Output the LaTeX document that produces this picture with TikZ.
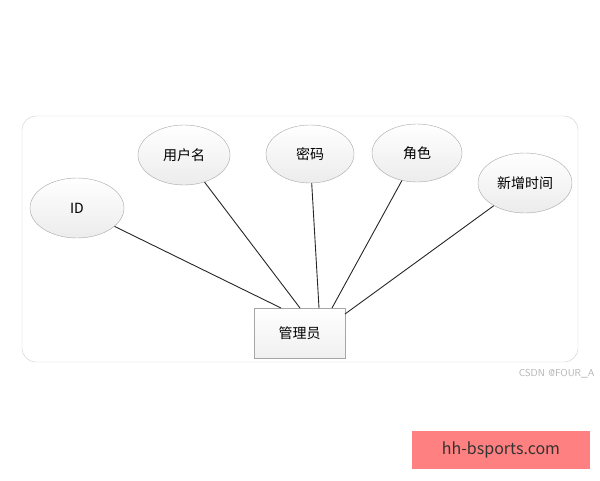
\documentclass[tikz,border=0pt]{standalone}
\usepackage{fontspec}
\setmainfont{Noto Sans CJK SC}
\usetikzlibrary{shapes.geometric}
\begin{document}
\begin{tikzpicture}[x=1pt,y=-1pt,
  attr/.style={ellipse,draw=gray!70,top color=white,bottom color=gray!15,inner sep=0pt,font=\fontsize{14}{16}\selectfont},
  ent/.style={rectangle,draw=gray!70,top color=white,bottom color=gray!12,inner sep=0pt,font=\fontsize{14}{16}\selectfont},
  conn/.style={draw=black!85,line width=0.9pt}]
\useasboundingbox (0,0) rectangle (600,480);
\draw[gray!40,rounded corners=14pt] (22,116) rectangle (578,362);
\node[attr,minimum width=94,minimum height=60] (id) at (77,208) {ID};
\node[attr,minimum width=92,minimum height=60] (un) at (184,155) {用户名};
\node[attr,minimum width=88,minimum height=58] (pw) at (310,154) {密码};
\node[attr,minimum width=90,minimum height=58] (ro) at (417,153) {角色};
\node[attr,minimum width=94,minimum height=60] (tm) at (525,183) {新增时间};
\node[ent,minimum width=91,minimum height=50] (m) at (299.5,333) {管理员};
\coordinate (c1) at (281,308);
\coordinate (c2) at (300,308);
\coordinate (c3) at (319,308);
\coordinate (c4) at (332,308);
\coordinate (c5) at (345,314);
\draw[conn] (id) -- (c1);
\draw[conn] (un) -- (c2);
\draw[conn] (pw) -- (c3);
\draw[conn] (ro) -- (c4);
\draw[conn] (tm) -- (c5);
\node[text=gray!60,font=\fontsize{10}{12}\selectfont\sffamily,anchor=east] (wm) at (598,374) {CSDN @FOUR\_A};
\node[fill=red!50!white,draw=none,minimum width=178,minimum height=38,font=\fontsize{16}{18}\selectfont,text=black!80] (ad) at (501,450) {hh-bsports.com};
\end{tikzpicture}
\end{document}
